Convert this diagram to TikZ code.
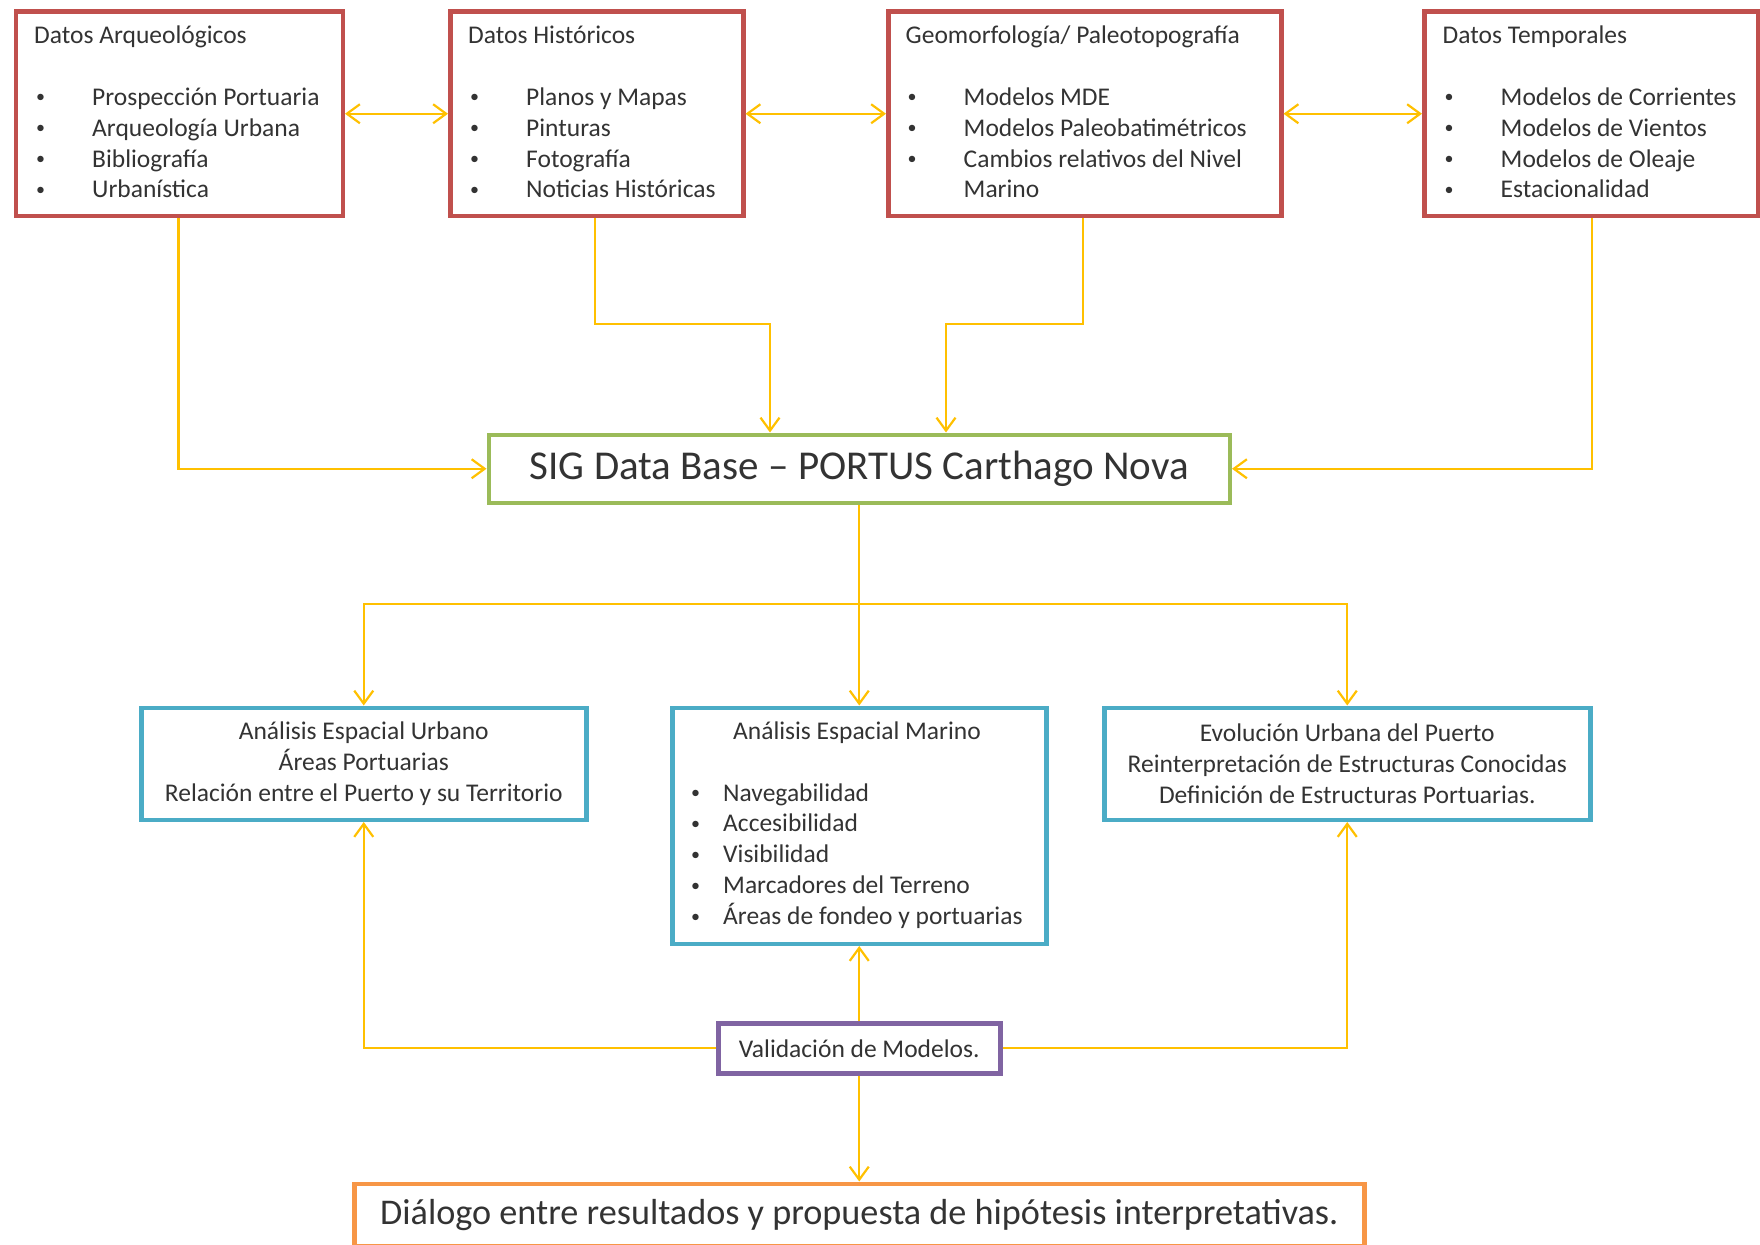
\documentclass[tikz,border=0pt]{standalone}
\usepackage{fontspec}
\setmainfont{Carlito}
\usetikzlibrary{arrows.meta}
\definecolor{cRed}{HTML}{C0504D}
\definecolor{cGreen}{HTML}{9BBB59}
\definecolor{cBlue}{HTML}{4BACC6}
\definecolor{cPurple}{HTML}{8064A2}
\definecolor{cOrange}{HTML}{F79646}
\definecolor{cArrow}{HTML}{FFC000}
\definecolor{cText}{HTML}{333333}
\newcommand{\bfont}{\fontsize{25.5}{30.9}\selectfont}
\newcommand{\dotb}{\raisebox{2.6pt}{\fontsize{18}{18}\selectfont •}}
\newcommand{\blt}[1]{\makebox[58pt][l]{\hspace{2pt}\dotb}#1}
\newcommand{\bltb}[1]{\makebox[34pt][l]{\hspace{2pt}\dotb}#1}
\tikzset{
  box/.style={draw, line width=4.5pt, inner sep=0pt, anchor=north west, fill=white},
  redbox/.style={box, draw=cRed},
  txt/.style={inner sep=0pt, text=cText, font=\bfont},
  conn/.style={draw=cArrow, line width=2.2pt},
  tipend/.style={-{Straight Barb[length=13pt,width=19pt]}},
  tipboth/.style={{Straight Barb[length=13pt,width=19pt]}-{Straight Barb[length=13pt,width=19pt]}}
}
\begin{document}
\begin{tikzpicture}[x=1pt,y=-1pt]
\useasboundingbox (0,0) rectangle (1760,1244);
% top boxes
\node[redbox, minimum width=327pt, minimum height=204pt] (b1) at (13.5,9.5) {};
\node[redbox, minimum width=293pt, minimum height=204pt] (b2) at (448,9.5) {};
\node[redbox, minimum width=393pt, minimum height=204pt] (b3) at (886,9.5) {};
\node[redbox, minimum width=334pt, minimum height=204pt] (b4) at (1422,9.5) {};
\node[txt, anchor=base west] (t1) at (34,43.5) {\begin{tabular}[t]{@{}l@{}}
Datos Arqueológicos\\ \\
\blt{Prospección Portuaria}\\
\blt{Arqueología Urbana}\\
\blt{Bibliografía}\\
\blt{Urbanística}\end{tabular}};
\node[txt, anchor=base west] (t2) at (468,43.5) {\begin{tabular}[t]{@{}l@{}}
Datos Históricos\\ \\
\blt{Planos y Mapas}\\
\blt{Pinturas}\\
\blt{Fotografía}\\
\blt{Noticias Históricas}\end{tabular}};
\node[txt, anchor=base west] (t3) at (905.5,43.5) {\begin{tabular}[t]{@{}l@{}}
Geomorfología/ Paleotopografía\\ \\
\blt{Modelos MDE}\\
\blt{Modelos Paleobatimétricos}\\
\blt{Cambios relativos del Nivel}\\
\hspace{58pt}Marino\end{tabular}};
\node[txt, anchor=base west] (t4) at (1442.5,43.5) {\begin{tabular}[t]{@{}l@{}}
Datos Temporales\\ \\
\blt{Modelos de Corrientes}\\
\blt{Modelos de Vientos}\\
\blt{Modelos de Oleaje}\\
\blt{Estacionalidad}\end{tabular}};
% SIG
\node[box, draw=cGreen, minimum width=741pt, minimum height=68pt, text=cText, font=\fontsize{41}{49}\selectfont] (sig) at (486.5,432.5) {SIG Data Base – PORTUS Carthago Nova};
% blue boxes
\node[box, draw=cBlue, minimum width=445pt, minimum height=112pt, text=cText, font=\bfont, align=center] (bA) at (139,705.5) {Análisis Espacial Urbano\\Áreas Portuarias\\Relación entre el Puerto y su Territorio};
\node[box, draw=cBlue, minimum width=374pt, minimum height=236pt] (bB) at (670,705.5) {};
\node[box, draw=cBlue, minimum width=486pt, minimum height=112pt, text=cText, font=\bfont, align=center] (bC) at (1102,705.5) {Evolución Urbana del Puerto\\Reinterpretación de Estructuras Conocidas\\Definición de Estructuras Portuarias.};
\node[txt, anchor=base] (tB) at (857,739) {Análisis Espacial Marino};
\node[txt, anchor=base west] (lB) at (689,801) {\begin{tabular}[t]{@{}l@{}}
\bltb{Navegabilidad}\\
\bltb{Accesibilidad}\\
\bltb{Visibilidad}\\
\bltb{Marcadores del Terreno}\\
\bltb{Áreas de fondeo y portuarias}\end{tabular}};
% validation
\node[box, draw=cPurple, minimum width=282pt, minimum height=50pt, text=cText, font=\bfont] (val) at (716,1021) {Validación de Modelos.};
% final
\node[box, draw=cOrange, minimum width=1010pt, minimum height=62pt, text=cText, font=\fontsize{36.2}{43}\selectfont] (fin) at (352,1181.5) {Diálogo entre resultados y propuesta de hipótesis interpretativas.};
% coordinates for bends
\coordinate (k2) at (770,324);
\coordinate (k3) at (946,324);
\coordinate (j) at (857,604);
% connectors top
\draw[conn, tipboth] (b1.east) -- (b2.west);
\draw[conn, tipboth] (b2.east) -- (b3.west);
\draw[conn, tipboth] (b3.east) -- (b4.west);
\draw[conn, tipend] ([xshift=165pt]b1.south west) |- (sig.west);
\draw[conn, tipend] ([xshift=147pt]b2.south west) |- (k2) -- (k2 |- sig.north);
\draw[conn, tipend] ([xshift=197pt]b3.south west) |- (k3) -- (k3 |- sig.north);
\draw[conn, tipend] ([xshift=170pt]b4.south west) |- (sig.east);
% from SIG
\draw[conn, tipend] (sig.south) -- (bB.north);
\draw[conn, tipend] (j) -| (bA.north);
\draw[conn, tipend] (j) -| (bC.north);
% from validation
\draw[conn, tipend] (val.north) -- (bB.south);
\draw[conn, tipend] (val.west) -| (bA.south);
\draw[conn, tipend] (val.east) -| (bC.south);
\draw[conn, tipend] (val.south) -- (fin.north);
\end{tikzpicture}
\end{document}
